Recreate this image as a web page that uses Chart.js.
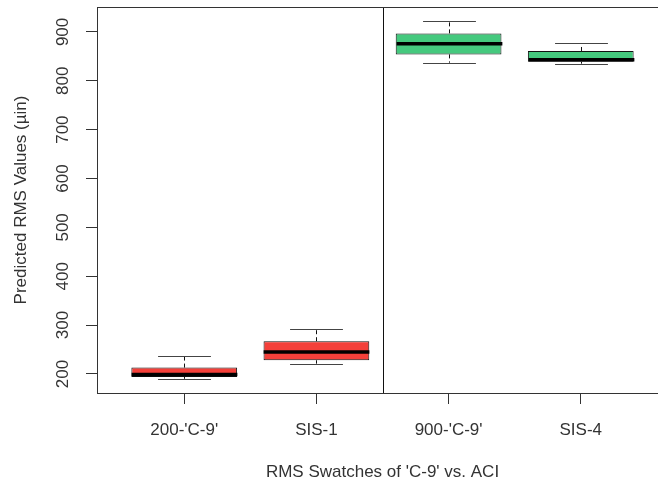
<!DOCTYPE html>
<html>
<head>
<meta charset="utf-8">
<script src="https://cdn.jsdelivr.net/npm/chart.js@4/dist/chart.umd.min.js"></script>
<style>
  html, body { margin: 0; padding: 0; background: #ffffff; overflow: hidden; }
  /* the plot region runs a little past the right edge of the window */
  #wrap { width: 668px; height: 489px; }
</style>
</head>
<body>
<div id="wrap"><canvas id="rmsChart"></canvas></div>
<script>
// Swatch groups and their positions on the x axis
const groups = ["200-'C-9'", "SIS-1", "900-'C-9'", "SIS-4"];
const groupPos = [1, 2, 3, 4];

// Five-number summaries (µin)
const lowerWhisker  = [190, 221, 837, 835];
const lowerQuartile = [194, 228, 854, 839];
const medians       = [199, 245, 876, 843];
const upperQuartile = [213, 267, 897, 861];
const upperWhisker  = [236, 292, 922, 877];

const yTicks = [200, 300, 400, 500, 600, 700, 800, 900];
const boxColors = ['#f4403a', '#f4403a', '#45c97e', '#45c97e'];

const FONT = { family: "'Liberation Sans', Arial, sans-serif", size: 17 };
const INK = '#333333';

// Whiskers, caps, medians, the separator and the frame
const boxplotExtras = {
    id: 'boxplotExtras',
    afterDatasetsDraw(chart) {
        const ctx = chart.ctx;
        const x = chart.scales.x;
        const y = chart.scales.y;
        const area = chart.chartArea;
        const bars = chart.getDatasetMeta(0).data;

        ctx.save();
        ctx.strokeStyle = '#111111';
        groupPos.forEach((pos, i) => {
            const cx = Math.round(x.getPixelForValue(pos)) + 0.5;
            const half = bars[i].width / 2;
            const capHalf = half / 2;

            // dashed whiskers
            ctx.lineWidth = 1;
            ctx.setLineDash([4, 3]);
            ctx.beginPath();
            ctx.moveTo(cx, y.getPixelForValue(upperQuartile[i]));
            ctx.lineTo(cx, y.getPixelForValue(upperWhisker[i]));
            ctx.moveTo(cx, y.getPixelForValue(lowerQuartile[i]));
            ctx.lineTo(cx, y.getPixelForValue(lowerWhisker[i]));
            ctx.stroke();

            // caps
            ctx.setLineDash([]);
            ctx.strokeStyle = '#444444';
            ctx.beginPath();
            const yu = Math.round(y.getPixelForValue(upperWhisker[i])) + 0.5;
            const yl = Math.round(y.getPixelForValue(lowerWhisker[i])) + 0.5;
            ctx.moveTo(cx - capHalf, yu);
            ctx.lineTo(cx + capHalf, yu);
            ctx.moveTo(cx - capHalf, yl);
            ctx.lineTo(cx + capHalf, yl);
            ctx.stroke();

            // median
            ctx.strokeStyle = '#000000';
            ctx.lineWidth = 3.5;
            ctx.beginPath();
            const ym = y.getPixelForValue(medians[i]);
            ctx.moveTo(cx - half, ym);
            ctx.lineTo(cx + half, ym);
            ctx.stroke();
            ctx.strokeStyle = '#111111';
        });

        // separator between the 200 and 900 groups
        const sx = Math.round(x.getPixelForValue(2.5)) + 0.5;
        ctx.lineWidth = 1;
        ctx.strokeStyle = '#111111';
        ctx.beginPath();
        ctx.moveTo(sx, area.top);
        ctx.lineTo(sx, area.bottom);
        ctx.stroke();

        // plot frame
        ctx.strokeStyle = '#333333';
        ctx.strokeRect(Math.round(area.left) + 0.5, Math.round(area.top) + 0.5,
            Math.round(area.right - area.left), Math.round(area.bottom - area.top));

        // y tick labels, drawn parallel to the axis
        ctx.fillStyle = INK;
        ctx.font = FONT.size + 'px ' + FONT.family;
        ctx.textAlign = 'center';
        ctx.textBaseline = 'middle';
        yTicks.forEach(v => {
            ctx.save();
            ctx.translate(63, y.getPixelForValue(v));
            ctx.rotate(-Math.PI / 2);
            ctx.fillText(String(v), 0, 0);
            ctx.restore();
        });
        ctx.restore();
    }
};

const ctx = document.getElementById('rmsChart').getContext('2d');
new Chart(ctx, {
    type: 'bar',
    data: {
        datasets: [{
            data: groupPos.map((p, i) => ({ x: p, y: [lowerQuartile[i], upperQuartile[i]] })),
            backgroundColor: boxColors,
            borderColor: '#111111',
            borderWidth: 1,
            borderSkipped: false,
            barPercentage: 0.8,
            categoryPercentage: 1
        }]
    },
    options: {
        responsive: true,
        maintainAspectRatio: false,
        animation: false,
        layout: { padding: { top: 7, right: 0, bottom: 0, left: 0 } },
        plugins: {
            legend: { display: false },
            tooltip: { enabled: false }
        },
        scales: {
            x: {
                type: 'linear',
                min: 0.34,
                max: 4.66,
                offset: false,
                afterBuildTicks: scale => { scale.ticks = groupPos.map(v => ({ value: v })); },
                afterFit: scale => { scale.height = 96; },
                grid: { display: true, offset: false, drawOnChartArea: false, drawTicks: true, tickLength: 11, color: INK },
                border: { display: false },
                ticks: {
                    autoSkip: false,
                    maxRotation: 0,
                    padding: 16,
                    color: INK,
                    font: FONT,
                    callback: v => groups[v - 1]
                },
                title: {
                    display: true,
                    text: "RMS Swatches of 'C-9' vs. ACI",
                    color: INK,
                    font: FONT,
                    padding: { top: 0, bottom: 6 }
                }
            },
            y: {
                min: 161,
                max: 951,
                afterBuildTicks: scale => { scale.ticks = yTicks.map(v => ({ value: v })); },
                afterFit: scale => { scale.width = 97; },
                grid: { display: true, drawOnChartArea: false, drawTicks: true, tickLength: 11, color: INK },
                border: { display: false },
                ticks: { display: false },
                title: {
                    display: true,
                    text: 'Predicted RMS Values (µin)',
                    color: INK,
                    font: FONT,
                    padding: { top: 11, bottom: 0 }
                }
            }
        }
    },
    plugins: [boxplotExtras]
});
</script>
</body>
</html>
